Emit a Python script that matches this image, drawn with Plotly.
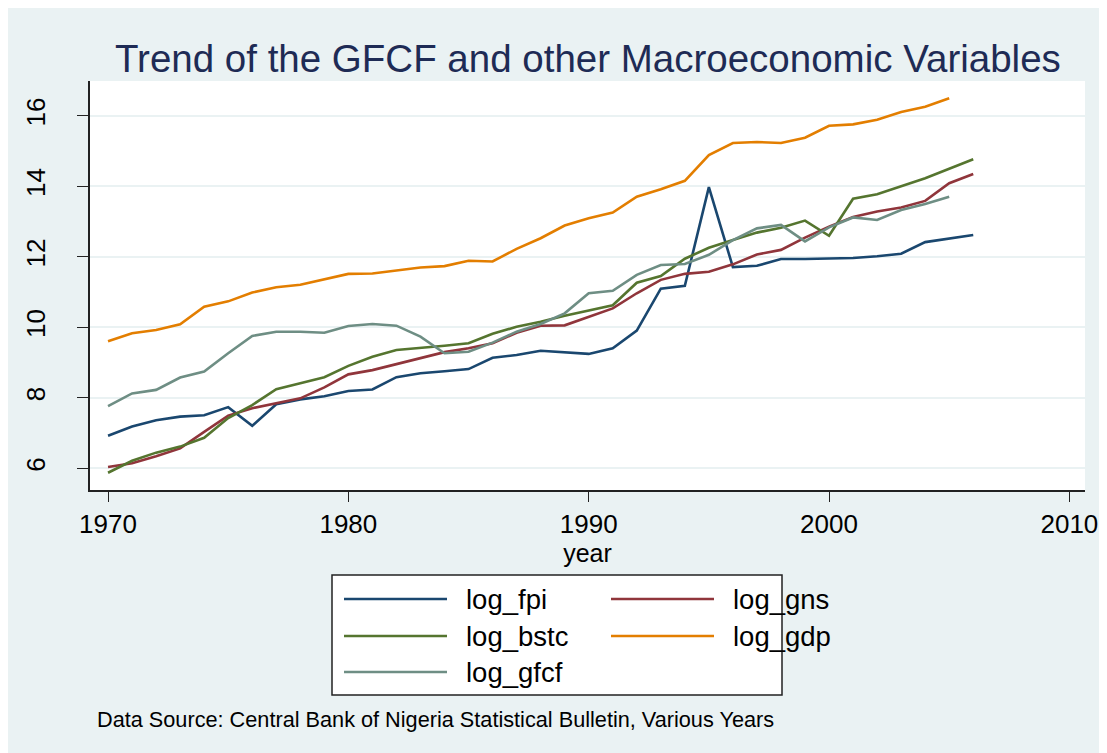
import plotly.graph_objects as go

years_a = list(range(1970, 2007))
years_b = list(range(1970, 2006))

log_fpi = [6.93, 7.19, 7.37, 7.47, 7.51, 7.74, 7.21, 7.82, 7.96, 8.05, 8.20, 8.24, 8.59, 8.70,
           8.76, 8.82, 9.14, 9.22, 9.34, 9.30, 9.25, 9.41, 9.91, 11.10, 11.18, 13.98, 11.71,
           11.75, 11.94, 11.94, 11.95, 11.97, 12.02, 12.09, 12.42, 12.51, 12.62]
log_gns = [6.04, 6.15, 6.35, 6.57, 7.04, 7.50, 7.71, 7.85, 7.99, 8.30, 8.67, 8.79, 8.96, 9.15,
           9.30, 9.41, 9.55, 9.85, 10.05, 10.06, 10.31, 10.54, 10.97, 11.35, 11.52, 11.58,
           11.79, 12.07, 12.20, 12.55, 12.86, 13.13, 13.29, 13.40, 13.59, 14.09, 14.35]
log_bstc = [5.88, 6.22, 6.45, 6.62, 6.87, 7.43, 7.80, 8.25, 8.42, 8.59, 8.91, 9.17, 9.36, 9.41,
            9.48, 9.55, 9.82, 10.02, 10.16, 10.33, 10.48, 10.63, 11.27, 11.46, 11.95, 12.26,
            12.48, 12.69, 12.83, 13.03, 12.60, 13.65, 13.78, 14.01, 14.23, 14.50, 14.77]
log_gdp = [9.61, 9.835, 9.93, 10.09, 10.59, 10.74, 10.99, 11.14, 11.21, 11.37, 11.52, 11.53,
           11.61, 11.70, 11.74, 11.89, 11.87, 12.23, 12.53, 12.89, 13.10, 13.26, 13.71, 13.92,
           14.16, 14.89, 15.23, 15.26, 15.23, 15.38, 15.72, 15.76, 15.89, 16.11, 16.26, 16.50]
log_gfcf = [7.77, 8.13, 8.23, 8.58, 8.75, 9.27, 9.76, 9.88, 9.88, 9.85, 10.04, 10.10, 10.05,
            9.74, 9.27, 9.31, 9.57, 9.88, 10.10, 10.40, 10.97, 11.04, 11.49, 11.77, 11.80,
            12.06, 12.48, 12.81, 12.91, 12.44, 12.84, 13.12, 13.05, 13.33, 13.50, 13.71]

x_ticks = [1970, 1980, 1990, 2000, 2010]
y_ticks = [6, 8, 10, 12, 14, 16]

series = [
    ("log_fpi", years_a, log_fpi, "#1A476F"),
    ("log_gns", years_a, log_gns, "#90353B"),
    ("log_bstc", years_a, log_bstc, "#55752F"),
    ("log_gdp", years_b, log_gdp, "#E37E00"),
    ("log_gfcf", years_b, log_gfcf, "#6E8E84"),
]

title_text = "Trend of the GFCF and other Macroeconomic Variables"
caption_text = "Data Source: Central Bank of Nigeria Statistical Bulletin, Various Years"

W, H = 1107, 753
OFF = 8  # page body margin
# plot area in screen pixels
SL, SR, ST, SB = 90, 1085, 81, 490
L, R, T, B = SL - OFF, SR - OFF, ST - OFF, SB - OFF
FONT = "Liberation Sans, Arial, sans-serif"
BG = "#EAF2F3"

def px_x(sx):
    return (sx - SL) / (SR - SL)

def px_y(sy):
    return (SB - sy) / (SB - ST)

fig = go.Figure()
for name, xs, ys, col in series:
    fig.add_trace(go.Scatter(x=xs, y=ys, mode="lines", name=name,
                             line=dict(color=col, width=2.6), showlegend=False))

shapes = []
annotations = []

# legend box
shapes.append(dict(type="rect", xref="paper", yref="paper", layer="above",
                   x0=px_x(332), x1=px_x(782), y0=px_y(695), y1=px_y(575),
                   fillcolor="white", line=dict(color="#222222", width=1.5)))

legend_pos = [(344, 599), (611, 599), (344, 636), (611, 636), (344, 672)]
for (name, xs, ys, col), (lx, ly) in zip(series, legend_pos):
    shapes.append(dict(type="line", xref="paper", yref="paper", layer="above",
                       x0=px_x(lx), x1=px_x(lx + 103), y0=px_y(ly), y1=px_y(ly),
                       line=dict(color=col, width=2.6)))
    annotations.append(dict(xref="paper", yref="paper", x=px_x(lx + 120), y=px_y(ly),
                            xanchor="left", yanchor="middle", showarrow=False,
                            text=name, font=dict(family=FONT, size=27.5, color="black")))

annotations.append(dict(xref="paper", yref="paper", x=px_x(95), y=px_y(719),
                        xanchor="left", yanchor="middle", showarrow=False,
                        text=caption_text, font=dict(family=FONT, size=21.7, color="black")))
annotations.append(dict(xref="paper", yref="paper", x=0.5, y=px_y(58),
                        xanchor="center", yanchor="middle", showarrow=False,
                        text=title_text, font=dict(family=FONT, size=38.5, color="#1E2B55")))

fig.update_layout(
    width=W, height=H,
    margin=dict(l=L, r=W - R, t=T, b=H - B, pad=0),
    paper_bgcolor=BG, plot_bgcolor="white",
    font=dict(family=FONT, color="black"),
    shapes=shapes, annotations=annotations,
    showlegend=False,
)
fig.update_xaxes(range=[1969.25, 2010.65], tickvals=x_ticks, ticks="outside", ticklen=10,
                 tickwidth=1.2, tickcolor="#222222", showline=True, linecolor="#222222",
                 linewidth=1.5, showgrid=False, zeroline=False,
                 tickfont=dict(family=FONT, size=26, color="black"),
                 title=dict(text="year", font=dict(family=FONT, size=25, color="black"),
                            standoff=0))
fig.update_yaxes(range=[5.39, 16.99], tickvals=y_ticks, ticks="outside", ticklen=11,
                 tickwidth=1.2, tickcolor="#222222", showline=True, linecolor="#222222",
                 linewidth=1.5, showgrid=True, gridcolor=BG, gridwidth=2, zeroline=False,
                 tickangle=-90, ticklabelstandoff=22,
                 tickfont=dict(family=FONT, size=26, color="black"))

fig.write_html("out.html")
